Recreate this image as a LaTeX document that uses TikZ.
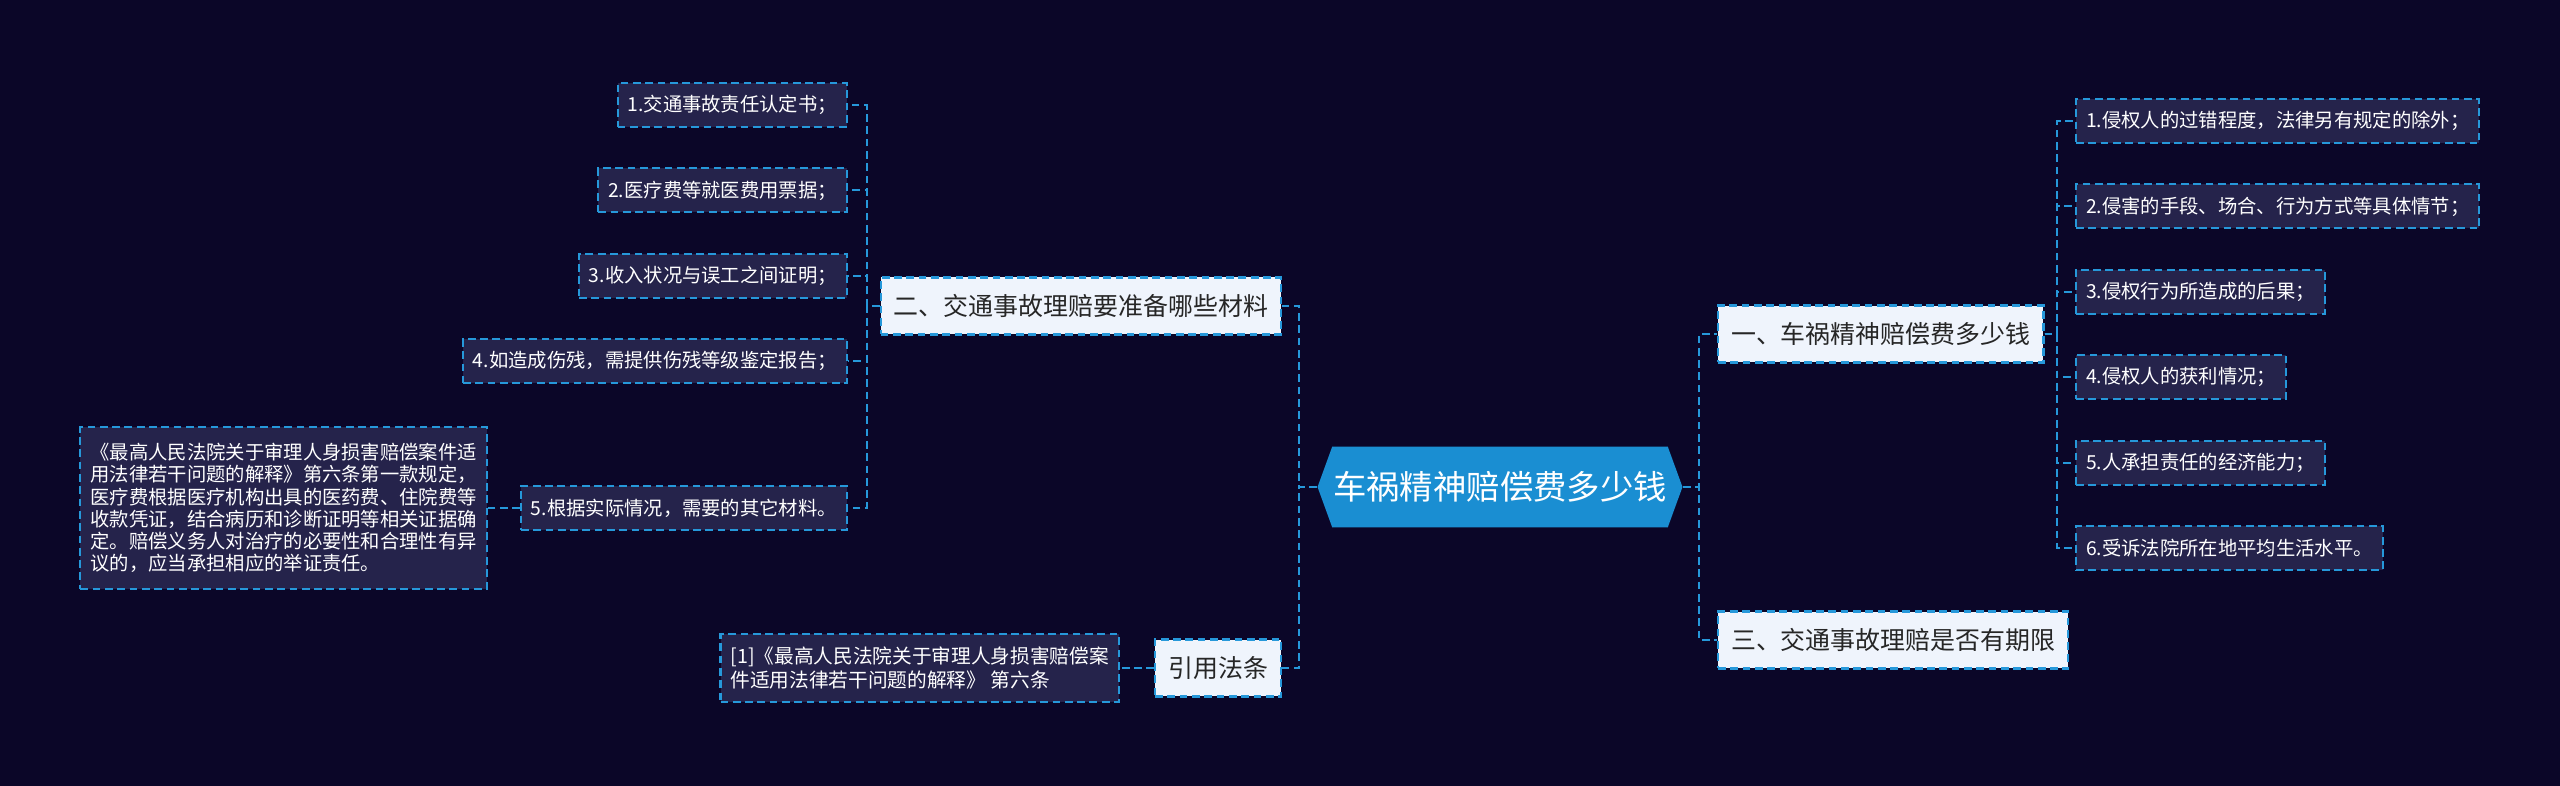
\documentclass[tikz,border=0pt]{standalone}
\usepackage{fontspec}
\setmainfont{Noto Sans CJK SC}
\usetikzlibrary{shapes.symbols}
\definecolor{bgcol}{RGB}{11,6,40}
\definecolor{linecol}{RGB}{38,152,218}
\definecolor{leafcol}{RGB}{37,35,75}
\definecolor{topcol}{RGB}{239,244,252}
\definecolor{rootcol}{RGB}{26,142,210}
\begin{document}
\begin{tikzpicture}[
    x=0.02cm, y=-0.02cm,
    rootnode/.style={signal, signal to=west and east, signal pointer angle=140, fill=rootcol, text=white, font=\fontsize{19pt}{22pt}\selectfont, minimum width=7.3cm, minimum height=1.62cm, inner sep=0pt},
    topic/.style={draw=linecol, line width=1.2pt, dash pattern=on 4.4pt off 2.6pt, fill=topcol, text=black!85, font=\fontsize{14.2pt}{17pt}\selectfont, minimum height=1.14cm, inner xsep=0.26cm},
    leaf/.style={draw=linecol, line width=1.2pt, dash pattern=on 4.4pt off 2.6pt, fill=leafcol, text=white, font=\fontsize{11pt}{13pt}\selectfont, minimum height=0.88cm, inner xsep=0.2cm},
    link/.style={draw=linecol, line width=1.2pt, dash pattern=on 4.4pt off 2.6pt},
]
\useasboundingbox (0,0) rectangle (2560,786);
\fill[bgcol] (0,0) rectangle (2560,786);

% Root
\node[rootnode] (root) at (1500,487) {车祸精神赔偿费多少钱};

% Topics
\node[topic, anchor=west] (q1) at (1717,334) {一、车祸精神赔偿费多少钱};
\node[topic, anchor=east] (q2) at (1282,306) {二、交通事故理赔要准备哪些材料};
\node[topic, anchor=west] (q3) at (1717,640) {三、交通事故理赔是否有期限};
\node[topic, anchor=east] (law) at (1282,668) {引用法条};

% Factors (right)
\foreach \t [count=\i, evaluate=\i as \y using 121+85.4*(\i-1)] in {
    {1.侵权人的过错程度，法律另有规定的除外；},
    {2.侵害的手段、场合、行为方式等具体情节；},
    {3.侵权行为所造成的后果；},
    {4.侵权人的获利情况；},
    {5.人承担责任的经济能力；},
    {6.受诉法院所在地平均生活水平。}} {
    \node[leaf, anchor=west] (f\i) at (2075,\y) {\t};
}

% Materials (left)
\foreach \t [count=\i, evaluate=\i as \y using 105+85.4*(\i-1)] in {
    {1.交通事故责任认定书；},
    {2.医疗费等就医费用票据；},
    {3.收入状况与误工之间证明；},
    {4.如造成伤残，需提供伤残等级鉴定报告；}} {
    \node[leaf, anchor=east] (m\i) at (848,\y) {\t};
}
\node[leaf, anchor=east] (m5) at (848,508) {5.根据实际情况，需要的其它材料。};
\node[leaf, anchor=east, align=left, font=\fontsize{11pt}{12.6pt}\selectfont, inner ysep=0.32cm] (note) at (488,508) {《最高人民法院关于审理人身损害赔偿案件适\\用法律若干问题的解释》第六条第一款规定，\\医疗费根据医疗机构出具的医药费、住院费等\\收款凭证，结合病历和诊断证明等相关证据确\\定。赔偿义务人对治疗的必要性和合理性有异\\议的，应当承担相应的举证责任。};
\node[leaf, anchor=east, align=left, font=\fontsize{11.2pt}{13.6pt}\selectfont, inner ysep=0.25cm] (ref) at (1120,668) {[1]《最高人民法院关于审理人身损害赔偿案\\件适用法律若干问题的解释》 第六条};

% Connections
\coordinate (lbus) at (1299,487);
\coordinate (rbus) at (1699,487);
\coordinate (mbus) at (867,306);
\coordinate (fbus) at (2057,334);
\foreach \n in {q2,law} {
    \draw[link] (root.west) -- (lbus) |- (\n.east);
}
\foreach \n in {q1,q3} {
    \draw[link] (root.east) -- (rbus) |- (\n.west);
}
\foreach \i in {1,...,5} {
    \draw[link] (q2.west) -- (mbus) |- (m\i.east);
}
\foreach \i in {1,...,6} {
    \draw[link] (q1.east) -- (fbus) |- (f\i.west);
}
\draw[link] (m5.west) -- (note.east);
\draw[link] (law.west) -- (ref.east);
\end{tikzpicture}
\end{document}
